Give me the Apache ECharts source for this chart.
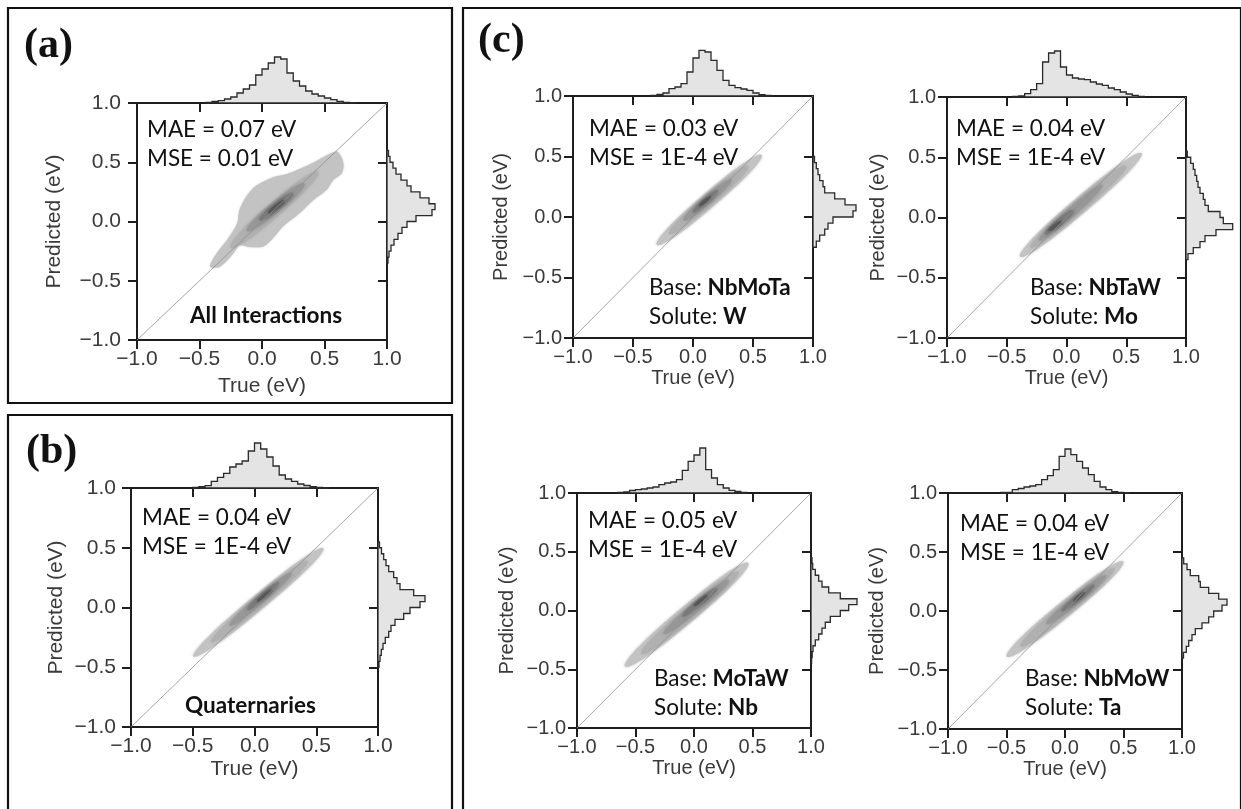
<!DOCTYPE html>
<html><head><meta charset="utf-8">
<script src="https://cdn.jsdelivr.net/npm/echarts@6/dist/echarts.min.js"></script>
<style>html,body{margin:0;padding:0;background:#fff}#c{width:1241px;height:809px}</style>
</head><body><div id="c"></div>
<script>
// ---------- shared ----------
const tickValues = [-1.0, -0.5, 0.0, 0.5, 1.0];
const binWidth = 0.05;
const histMax = 47;
const kdeColors = ['#c3c3c3', '#b0b0b0', '#979797', '#7a7a7a', '#575757', '#363636'];

// ---------- (a) All Interactions ----------
const aTopStart = -0.45;
const aTopCounts = [0.7,1.5,2.3,4,6,10,14,18,28,34,40,46,44,30,22,17,12,9,7,5,3.3,1.7,0.7,0.3];
const aRightStart = -0.35;
const aRightCounts = [1,2,4,7,11,15,20,29,45,48,42,33,24,20,14,9,6,3,1.5];
const aKdeOuter = [[-0.416,-0.381],[-0.362,-0.268],[-0.282,-0.16],[-0.2,-0.02],[-0.18,0.1],[-0.12,0.22],[-0.05,0.3],[0.08,0.37],[0.2,0.4],[0.38,0.48],[0.52,0.56],[0.6,0.59],[0.65,0.5],[0.64,0.41],[0.57,0.35],[0.52,0.27],[0.41,0.18],[0.3,0.07],[0.17,-0.04],[0.08,-0.15],[0.01,-0.21],[-0.1,-0.215],[-0.18,-0.2],[-0.23,-0.27],[-0.336,-0.381]];
const aKdeLevels = [[-0.25,-0.22,0.45,0.42,0.06],[-0.12,-0.08,0.34,0.32,0.045],[-0.02,0.01,0.25,0.24,0.032],[0.05,0.07,0.18,0.18,0.018]];
const aStats = ['MAE = 0.07 eV', 'MSE = 0.01 eV'];
const aNote = ['{b|All Interactions}'];

// ---------- (b) Quaternaries ----------
const bTopStart = -0.50;
const bTopCounts = [0.7,1.3,2.3,6.7,10.7,14.7,21,24,27,37,45,39,31,22,13,9,6.7,4,2.5,1.3,0.7,0.3];
const bRightStart = -0.50;
const bRightCounts = [1,2,3.3,5,7.3,10.7,13,17,25.7,32,42,47,35.7,22,19,15.7,10.7,8,5.7,3.5,1.5];
const bKdeLevels = [[-0.495,-0.41,0.557,0.495,0.062],[-0.35,-0.29,0.43,0.39,0.048],[-0.2,-0.15,0.3,0.29,0.036],[-0.06,-0.02,0.2,0.21,0.026],[0.02,0.05,0.14,0.15,0.014]];
const bStats = ['MAE = 0.04 eV', 'MSE = 1E-4 eV'];
const bNote = ['{b|Quaternaries}'];

// ---------- (c) Base NbMoTa, Solute W ----------
const c1TopStart = -0.35;
const c1TopCounts = [0.7,1.5,3,7.3,9,12.3,24,38,45.7,44,35.7,25.7,15.7,10.7,8.3,7,5.7,3,1.3,0.7];
const c1RightStart = -0.25;
const c1RightCounts = [3.3,6.7,11.7,15,20,40,43,32,21.7,11.7,10,6.7,5,3.3,1.5];
const c1KdeLevels = [[-0.303,-0.231,0.572,0.512,0.062],[-0.2,-0.14,0.46,0.42,0.048],[-0.08,-0.03,0.32,0.31,0.036],[0.0,0.04,0.21,0.22,0.025],[0.05,0.09,0.15,0.17,0.013]];
const c1Stats = ['MAE = 0.03 eV', 'MSE = 1E-4 eV'];
const c1Note = ['Base: {b|NbMoTa}', 'Solute: {b|W}'];

// ---------- (c) Base NbTaW, Solute Mo ----------
const c2TopStart = -0.45;
const c2TopCounts = [0.5,1,3.3,7.3,13.3,35,44,46,30,22,19,18,17.3,15,13,11.7,9,7.3,5,3,1.7,0.5];
const c2RightStart = -0.35;
const c2RightCounts = [2,7.3,14,19,30,46.7,37.3,34,22.3,19,17.3,14,12,10.7,9,7.3,4.7,1.3];
const c2KdeLevels = [[-0.389,-0.325,0.629,0.533,0.066],[-0.3,-0.25,0.5,0.43,0.052],[-0.23,-0.19,0.3,0.27,0.038],[-0.18,-0.14,0.06,0.06,0.028],[-0.15,-0.11,-0.04,-0.03,0.016]];
const c2Stats = ['MAE = 0.04 eV', 'MSE = 1E-4 eV'];
const c2Note = ['Base: {b|NbTaW}', 'Solute: {b|Mo}'];

// ---------- (c) Base MoTaW, Solute Nb ----------
const c3TopStart = -0.65;
const c3TopCounts = [0.5,1,2.5,3.3,4,5,6,8.3,10,11,13.3,22.7,31.7,38,45,23.3,15,8.3,5,2.7,1.5,0.5];
const c3RightStart = -0.45;
const c3RightCounts = [0.6,1.2,2,4.3,7.7,11,14.3,19.3,29.3,37.7,46,29.3,17.7,11,7.7,4.3,1.7,1];
const c3KdeLevels = [[-0.59,-0.476,0.464,0.404,0.072],[-0.45,-0.37,0.38,0.33,0.056],[-0.26,-0.2,0.3,0.26,0.04],[-0.1,-0.05,0.2,0.19,0.028],[0.0,0.04,0.12,0.13,0.015]];
const c3Stats = ['MAE = 0.05 eV', 'MSE = 1E-4 eV'];
const c3Note = ['Base: {b|MoTaW}', 'Solute: {b|Nb}'];

// ---------- (c) Base NbMoW, Solute Ta ----------
const c4TopStart = -0.55;
const c4TopCounts = [0.5,0.7,3.3,4.5,6,7,8.3,13.3,17.3,23.3,36.7,44,38.3,31.7,25,18.3,11.7,6,3.3,1.3,0.7,0.3];
const c4RightStart = -0.40;
const c4RightCounts = [1.5,4.3,6.7,10,13.3,20,26.7,31.7,40,45,36.7,26.7,18.3,16.7,8.3,5,1.7];
const c4KdeLevels = [[-0.498,-0.387,0.498,0.419,0.066],[-0.38,-0.3,0.42,0.36,0.052],[-0.16,-0.11,0.35,0.3,0.038],[-0.03,0.0,0.25,0.22,0.026],[0.07,0.08,0.17,0.16,0.014]];
const c4Stats = ['MAE = 0.04 eV', 'MSE = 1E-4 eV'];
const c4Note = ['Base: {b|NbMoW}', 'Solute: {b|Ta}'];

// ---------- layout (pixels) ----------
const panels = [
  {g:[137,103,250,237], f:21, xGap:36, yGap:72, yMar:16, xMar:9, top:[aTopStart,aTopCounts], right:[aRightStart,aRightCounts], outer:aKdeOuter, levels:aKdeLevels, stats:aStats, sPos:[147,130], note:aNote, nPos:[190,316]},
  {g:[131,488,247,239], f:21, xGap:32, yGap:64, yMar:15, xMar:9, top:[bTopStart,bTopCounts], right:[bRightStart,bRightCounts], outer:null, levels:bKdeLevels, stats:bStats, sPos:[142,518], note:bNote, nPos:[185,706]},
  {g:[573,96,240,242], f:20, xGap:30, yGap:62, yMar:11, xMar:9, top:[c1TopStart,c1TopCounts], right:[c1RightStart,c1RightCounts], outer:null, levels:c1KdeLevels, stats:c1Stats, sPos:[589,129], note:c1Note, nPos:[649,288]},
  {g:[947,97,239,241], f:20, xGap:30, yGap:59, yMar:11, xMar:9, top:[c2TopStart,c2TopCounts], right:[c2RightStart,c2RightCounts], outer:null, levels:c2KdeLevels, stats:c2Stats, sPos:[956,129], note:c2Note, nPos:[1030,288]},
  {g:[577,493,234,235], f:20, xGap:30, yGap:60, yMar:11, xMar:9, top:[c3TopStart,c3TopCounts], right:[c3RightStart,c3RightCounts], outer:null, levels:c3KdeLevels, stats:c3Stats, sPos:[588,521], note:c3Note, nPos:[654,679]},
  {g:[948,493,234,236], f:20, xGap:30, yGap:61, yMar:11, xMar:9, top:[c4TopStart,c4TopCounts], right:[c4RightStart,c4RightCounts], outer:null, levels:c4KdeLevels, stats:c4Stats, sPos:[960,524], note:c4Note, nPos:[1025,679]}
];

const fmt = v => (v < 0 ? '\u2212' : '') + Math.abs(v).toFixed(1);
const axMin = tickValues[0], axMax = tickValues[tickValues.length - 1], axInt = tickValues[1] - tickValues[0];
const lineCol = '#1e1e1e';
const noteFont = 22.5;

function ellipsePoints(api, l) {
  const [x0, y0, x1, y1, w] = l;
  const cx = (x0 + x1) / 2, cy = (y0 + y1) / 2, ux = (x1 - x0) / 2, uy = (y1 - y0) / 2;
  const len = Math.hypot(ux, uy), vx = -uy / len * w, vy = ux / len * w;
  const pts = [];
  for (let k = 0; k < 64; k++) {
    const t = 2 * Math.PI * k / 64;
    const c = Math.sign(Math.cos(t)) * Math.pow(Math.abs(Math.cos(t)), 0.8);
    const s = Math.sin(t);
    pts.push(api.coord([cx + ux * c + vx * s, cy + uy * c + vy * s]));
  }
  return pts;
}

function kdeRender(p) {
  return function (params, api) {
    const children = [];
    let ci = 0;
    if (p.outer) {
      children.push({type:'polygon', shape:{points:p.outer.map(d => api.coord(d)), smooth:0.3}, style:{fill:kdeColors[0], shadowBlur:2, shadowColor:kdeColors[0]}});
      ci = 1;
    }
    p.levels.forEach((l, i) => {
      const col = kdeColors[Math.min(ci + i, kdeColors.length - 1)];
      children.push({type:'polygon', shape:{points:ellipsePoints(api, l)}, style:{fill:col, shadowBlur:3, shadowColor:col}});
    });
    return {type:'group', children};
  };
}

function histRender(start, counts, vertical) {
  return function (params, api) {
    const pts = [];
    const end = start + counts.length * binWidth;
    const P = (a, b) => api.coord(vertical ? [b, a] : [a, b]);
    pts.push(P(start, 0));
    counts.forEach((c, i) => {
      const e0 = start + i * binWidth;
      pts.push(P(e0, c));
      pts.push(P(e0 + binWidth, c));
    });
    pts.push(P(end, 0));
    return {type:'polygon', shape:{points:pts}, style:{fill:'#e4e4e4', stroke:'#2a2a2a', lineWidth:1.3}};
  };
}

const grid = [], xAxis = [], yAxis = [], series = [], graphic = [];

panels.forEach((p, i) => {
  const [L, T, W, H] = p.g;
  grid.push({left:L, top:T, width:W, height:H});
  grid.push({left:L, top:T - histMax, width:W, height:histMax});
  grid.push({left:L + W, top:T, width:histMax, height:H});
  const gm = 3 * i;
  const baseAx = {min:axMin, max:axMax, interval:axInt, splitLine:{show:false},
    axisLine:{show:true, onZero:false, lineStyle:{color:lineCol, width:2}},
    axisTick:{show:true, length:9, lineStyle:{color:lineCol, width:2}}};
  const lab = {show:true, formatter:fmt, color:'#3a3a3a', fontFamily:'Liberation Sans', fontSize:p.f};
  const nameSt = {color:'#3a3a3a', fontFamily:'Liberation Sans', fontSize:p.f};
  xAxis.push(Object.assign({}, baseAx, {type:'value', gridIndex:gm, position:'bottom', name:'True (eV)', nameLocation:'middle', nameGap:p.xGap, nameTextStyle:nameSt, axisLabel:Object.assign({}, lab, {margin:p.xMar})}));
  xAxis.push(Object.assign({}, baseAx, {type:'value', gridIndex:gm, position:'top', axisTick:{show:true, inside:true, length:9, lineStyle:{color:lineCol, width:2}}, axisLabel:{show:false}}));
  xAxis.push({type:'value', gridIndex:gm + 1, min:axMin, max:axMax, show:false});
  xAxis.push({type:'value', gridIndex:gm + 2, min:0, max:histMax, show:false});
  yAxis.push(Object.assign({}, baseAx, {type:'value', gridIndex:gm, position:'left', name:'Predicted (eV)', nameLocation:'middle', nameGap:p.yGap, nameTextStyle:nameSt, axisLabel:Object.assign({}, lab, {margin:p.yMar})}));
  yAxis.push(Object.assign({}, baseAx, {type:'value', gridIndex:gm, position:'right', axisTick:{show:true, inside:true, length:9, lineStyle:{color:lineCol, width:2}}, axisLabel:{show:false}}));
  yAxis.push({type:'value', gridIndex:gm + 1, min:0, max:histMax, show:false});
  yAxis.push({type:'value', gridIndex:gm + 2, min:axMin, max:axMax, show:false});
  const ax = 4 * i;
  series.push({type:'custom', xAxisIndex:ax, yAxisIndex:ax, data:[[0, 0]], renderItem:kdeRender(p), silent:true, z:2});
  series.push({type:'line', xAxisIndex:ax, yAxisIndex:ax, data:[[axMin, axMin], [axMax, axMax]], symbol:'none', lineStyle:{color:'#8f8f8f', width:0.8}, silent:true, z:3});
  series.push({type:'custom', xAxisIndex:ax + 2, yAxisIndex:ax + 2, data:[[0, 0]], renderItem:histRender(p.top[0], p.top[1], false), silent:true, clip:false, z:1});
  series.push({type:'custom', xAxisIndex:ax + 3, yAxisIndex:ax + 3, data:[[0, 0]], renderItem:histRender(p.right[0], p.right[1], true), silent:true, clip:false, z:1});
  const txt = (s, x, y) => ({type:'text', x, y, silent:true, z:10, style:{text:s, fill:'#111', font:noteFont + 'px Lato', verticalAlign:'middle', align:'left', rich:{b:{fontWeight:'bold', fontSize:noteFont, fontFamily:'Lato', fill:'#111'}}}});
  p.stats.forEach((s, k) => graphic.push(txt(s, p.sPos[0], p.sPos[1] + k * 28.5)));
  p.note.forEach((s, k) => graphic.push(txt(s, p.nPos[0], p.nPos[1] + k * 28.5)));
});

// panel frames and letters
const frames = [[8, 8, 444, 395], [8, 415, 444, 400], [463, 8, 778, 807]];
frames.forEach(f => graphic.push({type:'rect', shape:{x:f[0], y:f[1], width:f[2], height:f[3]}, style:{fill:null, stroke:'#111', lineWidth:2.2}, silent:true}));
const panelLetters = [['(a)', 24, 46], ['(b)', 26, 452], ['(c)', 478, 41]];
panelLetters.forEach(l => graphic.push({type:'text', x:l[1], y:l[2], silent:true, style:{text:l[0], font:'bold 42px "Liberation Serif"', fill:'#111', verticalAlign:'middle', align:'left'}}));

const chart = echarts.init(document.getElementById('c'), null, {renderer:'canvas'});
chart.setOption({animation:false, backgroundColor:'#fff', grid, xAxis, yAxis, series, graphic});
</script></body></html>
